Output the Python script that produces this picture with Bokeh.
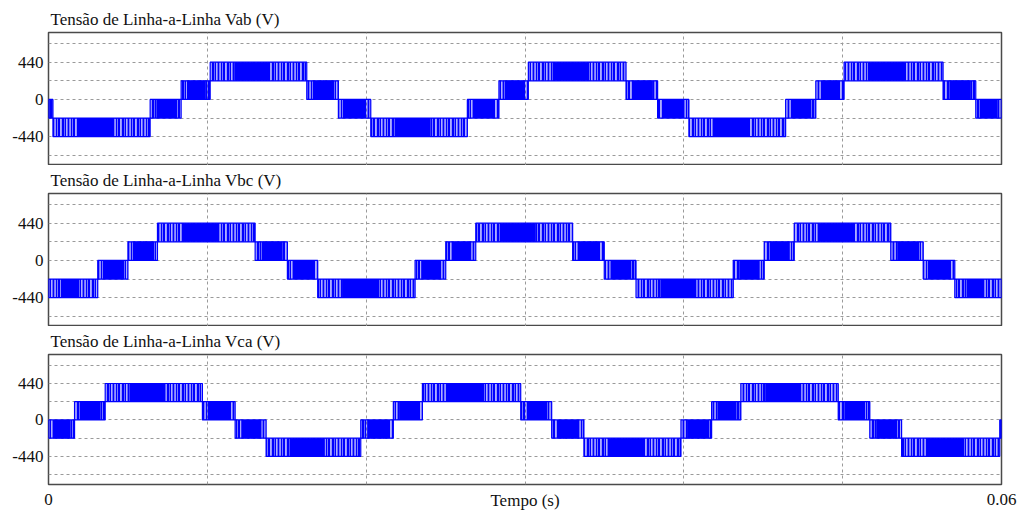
from bokeh.plotting import figure
from bokeh.layouts import column
from bokeh.models import FixedTicker, Range1d, ColumnDataSource
from bokeh.embed import file_html
from bokeh.resources import INLINE

# ---- data ----
# Each waveform is a sequence of PWM bands: between edges[i] and edges[i+1] (s)
# the voltage switches between lo[i] and hi[i] (V).
vab_edges = [0.0, 0.00028, 0.0064, 0.00835, 0.01018, 0.01626, 0.01825, 0.02029,
             0.02637, 0.02836, 0.03021, 0.03636, 0.03835, 0.04032, 0.04641,
             0.04831, 0.05009, 0.05632, 0.05838, 0.06]
vab_lo = [-220, -440, -220, 0, 220, 0, -220, -440, -220, 0, 220, 0, -220, -440, -220, 0, 220, 0, -220]
vab_hi = [0, -220, 0, 220, 440, 220, 0, -220, 0, 220, 440, 220, 0, -220, 0, 220, 440, 220, 0]

vbc_edges = [0.0, 0.0031, 0.0050, 0.00686, 0.01301, 0.01504, 0.01695, 0.02308,
             0.02501, 0.0269, 0.0330, 0.03499, 0.03699, 0.04311, 0.04506,
             0.04695, 0.05303, 0.05507, 0.05706, 0.06]
vbc_lo = [-440, -220, 0, 220, 0, -220, -440, -220, 0, 220, 0, -220, -440, -220, 0, 220, 0, -220, -440]
vbc_hi = [-220, 0, 220, 440, 220, 0, -220, 0, 220, 440, 220, 0, -220, 0, 220, 440, 220, 0, -220]

vca_edges = [0.0, 0.00164, 0.00357, 0.00969, 0.01175, 0.0137, 0.01966, 0.02171,
             0.02354, 0.02973, 0.03168, 0.03371, 0.03982, 0.04175, 0.04359,
             0.04972, 0.05171, 0.05371, 0.05989, 0.06]
vca_lo = [-220, 0, 220, 0, -220, -440, -220, 0, 220, 0, -220, -440, -220, 0, 220, 0, -220, -440, -220]
vca_hi = [0, 220, 440, 220, 0, -220, 0, 220, 440, 220, 0, -220, 0, 220, 440, 220, 0, -220, 0]

titles = ["Tensão de Linha-a-Linha Vab (V)",
          "Tensão de Linha-a-Linha Vbc (V)",
          "Tensão de Linha-a-Linha Vca (V)"]

y_ticks = [-660, -440, -220, 0, 220, 440, 660]
y_tick_labels = {-660: "", -440: "-440", -220: "", 0: "0", 220: "", 440: "440", 660: ""}
x_grid_ticks = [0.01, 0.02, 0.03, 0.04, 0.05]
x_ticks = [0, 0.06]
x_tick_labels = {0: "0", 0.06: "0.06"}
x_label = "Tempo (s)"

# ---- style ----
BLUE = "#0000FF"
SERIF = "Liberation Serif"
GRID = "#9a9a9a"
TXT = "#111111"


def make_panel(title, edges, lo, hi, frame_h, top_b, bottom_b, show_x):
    p = figure(frame_width=953, frame_height=frame_h,
               x_range=Range1d(0, 0.06), y_range=Range1d(-780, 790),
               output_backend="svg", toolbar_location=None,
               min_border_left=48, min_border_right=22,
               min_border_top=top_b, min_border_bottom=bottom_b,
               x_axis_location="below" if show_x else None)
    p.background_fill_color = "white"
    p.border_fill_color = "white"
    p.outline_line_color = "#4a4a4a"
    p.outline_line_width = 1.5

    p.title.text = title
    p.title.text_font = SERIF
    p.title.text_font_size = "17px"
    p.title.text_font_style = "normal"
    p.title.text_color = TXT
    p.title.align = "left"
    p.title.offset = 2
    p.title.standoff = 7

    yt = FixedTicker(ticks=y_ticks)
    p.yaxis.ticker = yt
    p.yaxis.major_label_overrides = y_tick_labels
    p.yaxis.major_label_text_font = SERIF
    p.yaxis.major_label_text_font_size = "17px"
    p.yaxis.major_label_text_color = TXT
    p.yaxis.axis_line_color = None
    p.yaxis.major_tick_line_color = None
    p.yaxis.minor_tick_line_color = None
    p.yaxis.major_tick_out = 0
    p.yaxis.major_tick_in = 0
    p.yaxis.major_label_standoff = 5

    p.ygrid.ticker = yt
    p.xgrid.ticker = FixedTicker(ticks=x_grid_ticks)
    for g in (p.xgrid, p.ygrid):
        g.grid_line_color = GRID
        g.grid_line_dash = "3 3"
        g.grid_line_width = 1

    if show_x:
        p.xaxis.ticker = FixedTicker(ticks=x_ticks)
        p.xaxis.major_label_overrides = x_tick_labels
        p.xaxis.major_label_text_font = SERIF
        p.xaxis.major_label_text_font_size = "17px"
        p.xaxis.major_label_text_color = TXT
        p.xaxis.axis_line_color = None
        p.xaxis.major_tick_line_color = None
        p.xaxis.minor_tick_line_color = None
        p.xaxis.major_tick_out = 0
        p.xaxis.major_tick_in = 0
        p.xaxis.major_label_standoff = 9
        p.xaxis.axis_label = x_label
        p.xaxis.axis_label_text_font = SERIF
        p.xaxis.axis_label_text_font_size = "17px"
        p.xaxis.axis_label_text_font_style = "normal"
        p.xaxis.axis_label_text_color = TXT
        p.xaxis.axis_label_standoff = -17

    left = edges[:-1]
    right = edges[1:]
    src = ColumnDataSource(dict(left=left, right=right, bottom=lo, top=hi))
    # faint switching (anti-aliased pulses)
    p.quad(left="left", right="right", bottom="bottom", top="top", source=src,
           fill_color=BLUE, fill_alpha=0.32, line_color=None)
    # switching pulses drawn as vertical strokes
    p.quad(left="left", right="right", bottom="bottom", top="top", source=src,
           fill_alpha=0, line_color=None, hatch_pattern="vertical_line",
           hatch_color=BLUE, hatch_scale=3, hatch_weight=1.3)
    p.quad(left="left", right="right", bottom="bottom", top="top", source=src,
           fill_alpha=0, line_color=None, hatch_pattern="vertical_line",
           hatch_color=BLUE, hatch_scale=5, hatch_weight=1.6)
    # dense middle part of each band
    core_l, core_r = [], []
    for a, b, l, h in zip(left, right, lo, hi):
        outer = max(abs(l), abs(h)) == 440
        f0, f1 = (0.25, 0.62) if outer else (0.20, 0.85)
        core_l.append(a + f0 * (b - a))
        core_r.append(a + f1 * (b - a))
    p.quad(left=core_l, right=core_r, bottom=lo, top=hi,
           fill_color=BLUE, line_color=None)
    # band outline (levels and transitions)
    p.quad(left="left", right="right", bottom="bottom", top="top", source=src,
           fill_alpha=0, line_color=BLUE, line_width=1.2)
    return p


p1 = make_panel(titles[0], vab_edges, vab_lo, vab_hi, 133, 32, 0, False)
p2 = make_panel(titles[1], vbc_edges, vbc_lo, vbc_hi, 133, 28, 0, False)
p3 = make_panel(titles[2], vca_edges, vca_lo, vca_hi, 130, 27, 27, True)

layout = column(p1, p2, p3, spacing=0)
open("out.html", "w").write(file_html(layout, INLINE))
